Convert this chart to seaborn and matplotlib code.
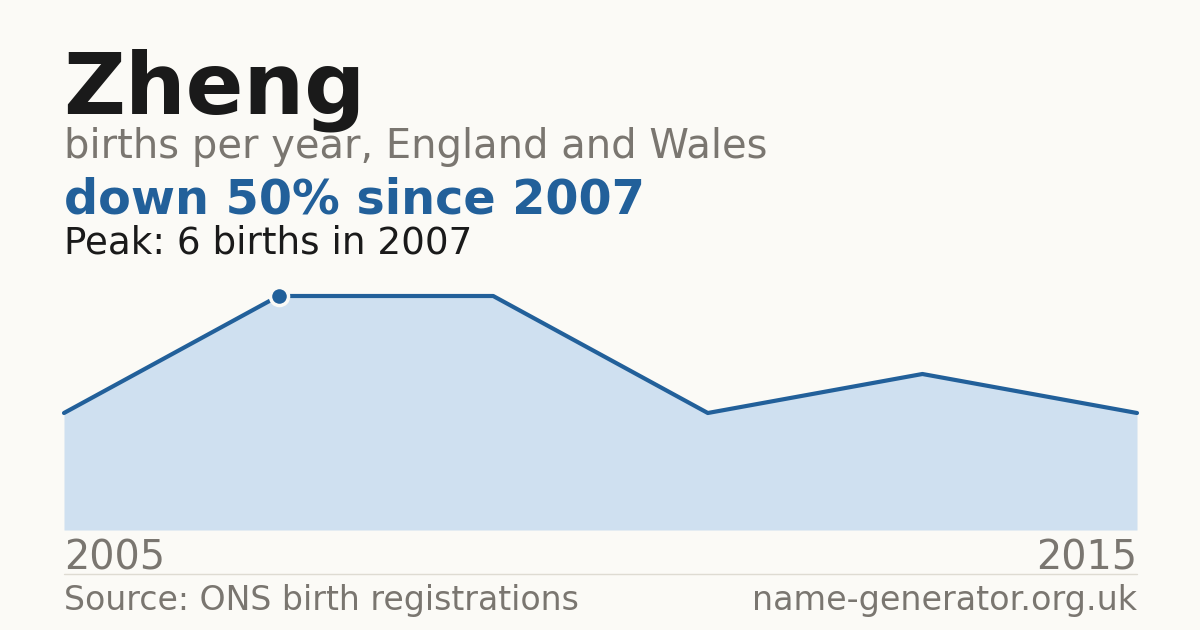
import numpy as np
import pandas as pd
import seaborn as sns
import matplotlib.pyplot as plt

years = [2005, 2007, 2009, 2011, 2013, 2015]
births = [3, 6, 6, 3, 4, 3]
peak_year = 2007
peak_value = 6

bg = "#fbfaf6"
line_col = "#22609a"
fill_col = "#cfe0f0"
grey = "#7a7670"

sns.set_theme(style="white")
plt.rcParams['font.family'] = ['DejaVu Sans']

df = pd.DataFrame({"year": years, "births": births})

fig = plt.figure(figsize=(12, 6.3), dpi=100, facecolor=bg)
W, H = 1200, 630

# plot area in pixels: x 64..1137, y 296..530
ax = fig.add_axes([64 / W, (H - 530) / H, 1073 / W, 234 / H])
ax.set_facecolor(bg)

ax.fill_between(df["year"], df["births"], 0, color=fill_col, linewidth=0)
sns.lineplot(data=df, x="year", y="births", ax=ax, color=line_col, linewidth=3)
for ln in ax.lines:
    ln.set_clip_on(False)
ax.plot([peak_year], [peak_value], marker="o", markersize=13, color=line_col,
        markeredgecolor=bg, markeredgewidth=2.5, clip_on=False, zorder=5)

ax.set_xlim(years[0], years[-1])
ax.set_ylim(0, peak_value)
ax.set_xticks([])
ax.set_yticks([])
ax.set_xlabel("")
ax.set_ylabel("")
for s in ax.spines.values():
    s.set_visible(False)

def px(x, y):
    return x / W, 1 - y / H

fig.text(*px(63, 113), "Zheng", fontsize=61.5, fontweight="bold", color="#1a1a1a", va="baseline")
fig.text(*px(64, 158), "births per year, England and Wales", fontsize=28.8, color=grey, va="baseline")
fig.text(*px(64, 213), "down 50% since 2007", fontsize=34.4, fontweight="bold", color="#22609a", va="baseline")
fig.text(*px(64, 253), "Peak: 6 births in 2007", fontsize=26.8, color="#1a1a1a", va="baseline")

fig.text(*px(64, 570), str(years[0]), fontsize=28.6, color=grey, va="baseline", ha="left")
fig.text(*px(1137, 570), str(years[-1]), fontsize=28.6, color=grey, va="baseline", ha="right")

fig.add_artist(plt.Line2D([64 / W, 1137 / W], [1 - 574 / H, 1 - 574 / H],
                          color="#dedbd2", linewidth=1))

fig.text(*px(64, 610), "Source: ONS birth registrations", fontsize=23.9, color=grey, va="baseline")
fig.text(*px(1137, 610), "name-generator.org.uk", fontsize=24, color=grey, va="baseline", ha="right")

fig.savefig("out.png", dpi=100, facecolor=bg)
